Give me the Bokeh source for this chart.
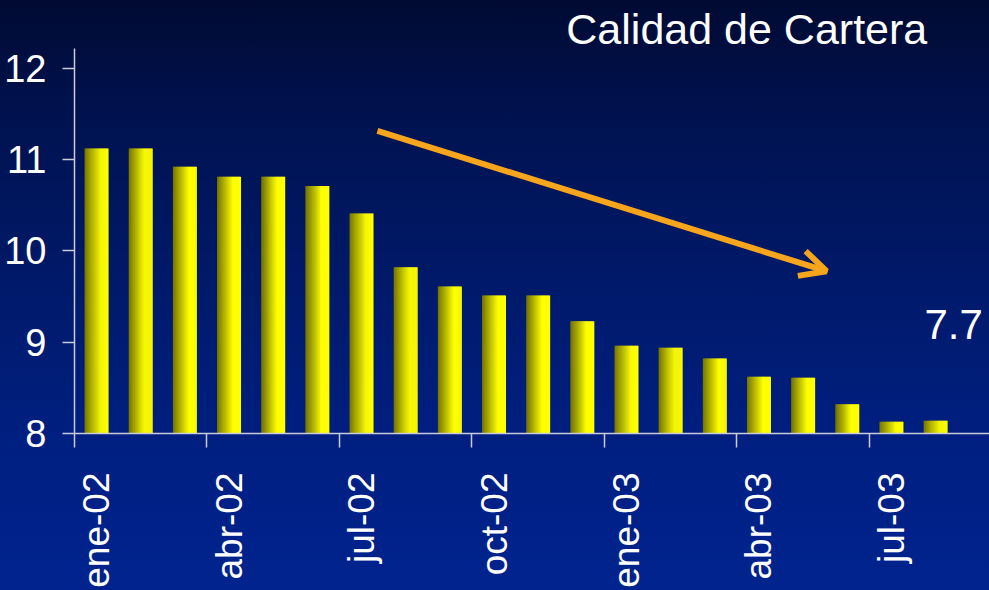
import math
from bokeh.plotting import figure
from bokeh.models import (Range1d, LinearAxis, FixedTicker, Label, Arrow, OpenHead,
                          ColumnDataSource)
from bokeh.embed import file_html
from bokeh.resources import INLINE

# ---- data ----
months = ["ene-02", "feb-02", "mar-02", "abr-02", "may-02", "jun-02", "jul-02",
          "ago-02", "sep-02", "oct-02", "nov-02", "dic-02", "ene-03", "feb-03",
          "mar-03", "abr-03", "may-03", "jun-03", "jul-03", "ago-03", "sep-03"]
cartera = [11.12, 11.12, 10.92, 10.81, 10.81, 10.71, 10.41, 9.82, 9.61, 9.51,
           9.51, 9.23, 8.96, 8.94, 8.82, 8.62, 8.61, 8.32, 8.13, 8.14, 7.7]
y_ticks = [8, 9, 10, 11, 12]
title_text = "Calidad de Cartera"

FONT = "Liberation Sans"
WHITE = "#ffffff"
AXIS = "#c9cbd8"
ORANGE = "#f6a51c"

p = figure(width=989, height=590, output_backend="svg", toolbar_location=None,
           x_range=Range1d(0, 20.72), y_range=Range1d(8, 12.741),
           min_border_left=74, min_border_top=0, min_border_right=0,
           min_border_bottom=155)
p.border_fill_color = None
p.background_fill_color = None
p.outline_line_color = None
p.grid.visible = False

# ---- gradient bars (each bar drawn as thin vertical strips) ----
bar_w = 0.53
n_strips = 24
xs, tops, widths, cols = [], [], [], []
for i, v in enumerate(cartera):
    for k in range(n_strips):
        t = (k + 0.5) / n_strips
        f = min(t / 0.68, 1.0)
        r = int(round(116 + (255 - 116) * f))
        g = int(round(116 + (255 - 116) * f))
        xs.append(i + 0.5 - bar_w / 2 + (k + 0.5) * bar_w / n_strips)
        tops.append(v)
        widths.append(bar_w / n_strips * 1.6)
        cols.append("#%02x%02x%02x" % (r, g, 0))
src = ColumnDataSource(dict(x=xs, top=tops, w=widths, c=cols))
p.vbar(x="x", top="top", bottom=0, width="w", fill_color="c", line_color=None, source=src)

# ---- x axis: boundary ticks ----
xa = p.xaxis[0]
xa.ticker = FixedTicker(ticks=[float(i) for i in range(0, len(months) - 1, 3)])
xa.major_label_overrides = {float(i): "" for i in range(0, len(months) - 1, 3)}
xa.major_label_text_font_size = "1px"
xa.major_label_standoff = 0
xa.minor_tick_line_color = None
xa.major_tick_in = 0
xa.major_tick_out = 14
xa.major_tick_line_color = AXIS
xa.major_tick_line_width = 1.5
xa.axis_line_color = AXIS
xa.axis_line_width = 1.5

# ---- x axis: month labels at bar centers ----
lab_pos = [i + 0.5 for i in range(0, len(months) - 1, 3)]
xl = LinearAxis(ticker=FixedTicker(ticks=lab_pos),
                major_label_overrides={i + 0.5: months[i] for i in range(0, len(months) - 1, 3)})
xl.axis_line_color = None
xl.major_tick_line_color = None
xl.minor_tick_line_color = None
xl.major_tick_in = 0
xl.major_tick_out = 0
xl.major_label_orientation = math.pi / 2
xl.major_label_standoff = 25
xl.major_label_text_font = FONT
xl.major_label_text_font_size = "37px"
xl.major_label_text_color = WHITE
p.add_layout(xl, "below")

# ---- y axis ----
ya = p.yaxis[0]
ya.ticker = FixedTicker(ticks=y_ticks)
ya.bounds = (8, 12.218)
ya.minor_tick_line_color = None
ya.major_tick_in = 0
ya.major_tick_out = 12
ya.major_tick_line_color = AXIS
ya.major_tick_line_width = 1.5
ya.axis_line_color = AXIS
ya.axis_line_width = 1.5
ya.major_label_standoff = 16
ya.major_label_text_font = FONT
ya.major_label_text_font_size = "38px"
ya.major_label_text_color = WHITE

# ---- annotations ----
p.add_layout(Label(x=19.31, y=12.425, text=title_text, text_align="right",
                   text_baseline="alphabetic", text_color=WHITE,
                   text_font=FONT, text_font_size="43px"))
p.add_layout(Label(x=20.57, y=9.198, text=str(cartera[-1]), text_align="right",
                   text_baseline="alphabetic", text_color=WHITE,
                   text_font=FONT, text_font_size="42px"))
p.add_layout(Arrow(end=OpenHead(size=26, line_color=ORANGE, line_width=6),
                   x_start=6.86, y_start=11.313, x_end=17.03, y_end=9.777,
                   line_color=ORANGE, line_width=6))

html = file_html(p, INLINE, title=title_text)
css = ("<style>html{background:#00238e linear-gradient(180deg,#000a32 0px,#001250 120px,"
       "#001a6c 300px,#001f82 450px,#00238e 590px) no-repeat;background-size:100% 590px;}"
       "body{margin:0;overflow:hidden;}</style>")
html = html.replace("</head>", css + "</head>", 1)
open("out.html", "w").write(html)
